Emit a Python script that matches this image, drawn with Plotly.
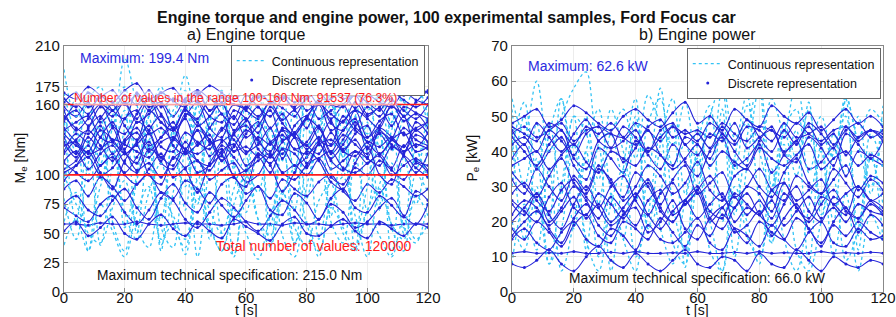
import plotly.graph_objects as go

t = [0, 4, 8, 12, 16, 20, 24, 28, 32, 36, 40, 44, 48, 52, 56, 60, 64, 68, 72, 76, 80, 84, 88, 92, 96, 100, 104, 108, 112, 116, 120]

# Engine torque samples [Nm]
torque_blue = [
    [158,150,162,145,155,160,148,165,152,140,158,163,150,145,160,155,148,162,157,150,165,148,155,160,142,158,150,163,155,148,160],
    [120,135,128,142,118,130,140,125,132,145,122,138,130,118,135,142,128,120,138,132,125,140,118,130,145,128,135,122,140,130,125],
    [105,112,125,108,118,102,115,128,110,105,120,112,108,125,115,103,118,110,122,108,115,128,105,112,120,110,118,106,125,112,108],
    [145,160,152,168,155,148,170,158,162,150,165,172,155,160,148,168,158,150,165,170,155,162,148,160,168,152,158,165,150,162,172],
    [132,118,140,150,128,122,145,138,115,130,148,125,140,152,120,135,145,128,118,142,150,130,125,138,148,122,140,132,118,145,135],
    [88,95,82,98,90,78,92,100,85,80,95,88,76,92,98,84,90,80,96,88,82,94,100,86,78,92,85,96,90,82,88],
    [58,58,57,59,58,58,60,58,57,58,59,58,58,57,58,60,58,58,57,59,58,58,57,58,59,58,58,57,58,58,58],
    [72,65,60,75,82,68,58,70,85,78,62,55,68,80,72,60,52,65,78,70,58,62,75,68,55,60,72,80,65,58,75],
    [110,102,95,108,115,100,92,105,118,98,106,112,96,104,110,94,100,116,102,96,108,114,98,92,106,100,112,104,96,110,102],
    [150,140,135,148,160,142,130,155,145,138,150,162,140,132,155,148,136,158,144,134,150,160,138,146,155,132,142,158,150,138,146],
    [165,158,170,162,155,168,160,172,158,165,162,170,155,166,160,158,172,162,168,156,165,170,160,158,168,162,155,170,164,158,166],
    [125,128,118,122,130,126,120,115,128,132,122,118,126,130,120,124,116,128,134,122,118,126,130,120,116,128,124,132,120,126,122],
    [95,108,120,102,88,112,125,100,92,115,105,85,110,122,98,90,118,108,86,102,120,112,94,88,110,124,100,92,116,106,98],
    [140,128,115,132,145,120,110,138,150,125,118,142,130,112,136,148,122,115,140,132,110,128,146,120,135,142,118,130,150,124,136],
    [75,82,70,65,78,88,72,62,80,92,76,68,85,74,64,78,90,70,66,84,76,62,80,88,72,68,82,74,64,86,78],
    [52,60,48,55,64,50,45,58,66,54,48,60,52,46,62,56,50,44,58,64,50,48,56,62,52,46,60,54,48,58,55],
    [148,155,142,158,150,162,145,152,160,140,155,148,165,152,143,158,150,162,147,155,140,160,152,145,162,150,157,142,158,153,148],
    [128,115,132,122,140,118,126,135,112,130,122,138,116,128,134,120,126,140,114,132,125,118,136,122,130,115,138,126,120,134,128],
    [162,170,158,166,172,160,168,155,170,163,158,172,165,160,168,156,170,162,166,158,172,160,165,170,157,168,162,158,170,164,160],
    [112,120,105,118,125,110,102,122,115,108,128,112,104,120,126,108,115,102,122,118,106,126,112,104,120,114,108,124,116,102,118],
    [138,145,150,132,128,148,155,135,140,130,152,145,128,138,150,132,142,155,130,136,148,140,126,150,138,132,146,152,134,140,145],
    [155,138,148,160,142,135,152,165,145,138,156,142,150,162,138,146,158,140,152,136,148,164,144,138,155,148,140,160,146,152,140],
    [102,108,115,100,106,118,104,110,98,114,120,102,108,116,100,104,112,118,102,108,100,114,120,106,102,110,116,100,108,114,104],
    [170,165,175,168,162,172,178,165,170,174,163,168,176,170,164,172,166,175,170,162,168,176,172,165,170,178,166,172,168,174,170],
    [135,125,120,138,130,118,128,142,124,120,136,128,122,140,130,118,132,126,138,122,128,142,120,134,126,118,136,130,124,138,128],
    [118,130,138,125,112,128,136,120,132,140,118,126,134,112,124,138,130,116,128,136,122,132,114,126,140,128,118,130,136,120,124],
]
torque_cyan = [
    [155,120,172,95,140,165,110,150,175,125,90,160,135,170,105,145,168,120,155,100,172,130,160,115,150,170,125,145,165,110,155],
    [80,45,110,140,60,35,95,130,55,38,120,75,150,50,32,105,85,140,48,30,90,125,60,42,115,70,135,55,35,100,85],
    [130,165,100,150,78,140,170,115,62,135,160,95,145,172,108,68,130,165,112,155,80,140,168,98,150,118,70,138,162,105,145],
    [40,62,35,75,52,30,68,90,45,58,32,80,55,35,70,50,28,65,88,42,60,30,72,55,38,68,48,30,62,45,58],
    [190,150,165,175,140,199.4,160,130,172,150,185,145,168,158,175,140,162,170,150,178,145,165,160,140,175,155,168,145,170,176,150],
    [60,85,50,42,72,95,55,38,80,65,45,90,58,35,75,100,62,48,85,55,40,78,92,50,35,70,88,58,45,82,65],
    [170,140,160,110,150,175,120,165,135,155,172,100,145,168,125,160,178,130,150,105,165,140,172,115,158,135,168,120,150,175,140],
    [100,75,55,90,120,68,45,85,110,60,38,95,70,50,88,115,62,40,82,105,58,35,78,98,65,30,92,110,55,42,80],
    [150,60,130,40,110,155,50,125,35,140,70,160,45,120,30,100,150,55,135,40,115,160,65,130,35,145,75,155,50,120,95],
    [90,140,35,120,165,55,100,150,40,85,135,30,110,160,60,95,145,38,125,70,150,45,105,165,50,90,140,32,115,75,130],
]

# Engine power samples [kW]
power_blue = [
    [45,47,44,46,48,43,46,47,45,44,48,46,43,47,45,46,44,48,45,43,47,46,44,48,45,43,46,47,44,46,45],
    [38,42,35,40,44,36,32,41,38,34,43,39,35,42,37,33,40,44,36,38,42,34,39,43,35,37,41,33,40,38,36],
    [25,22,28,20,24,30,26,21,27,23,19,26,29,22,25,28,20,24,27,22,26,21,28,24,20,25,29,23,21,26,24],
    [11,11.5,11,11.2,11,11.5,11,11,11.3,11,11.5,11,11,11.2,11,11.5,11,11,11.3,11,11.5,11,11.2,11,11,11.5,11,11.2,11,11.3,11],
    [18,15,20,17,13,19,22,16,14,20,18,15,21,17,13,19,16,22,18,14,20,17,15,21,18,13,19,16,20,17,15],
    [32,28,35,30,26,33,29,36,31,27,34,30,25,32,36,28,31,34,27,30,35,29,26,33,30,28,35,31,27,32,29],
    [22,26,24,19,23,27,21,25,20,24,28,22,18,23,26,21,25,28,20,24,22,26,19,23,27,21,24,20,25,23,22],
    [46,42,48,44,40,45,49,43,41,47,44,40,46,48,42,45,41,47,43,49,44,40,46,42,48,45,41,47,43,46,44],
    [8,7,9,12,8,6,10,13,9,7,11,8,6,9,12,8,7,10,9,6,11,8,7,12,9,6,10,8,7,9,8],
    [15,18,14,12,17,20,15,13,18,16,12,19,15,14,17,21,14,12,18,16,13,19,15,12,17,20,14,13,18,15,16],
    [36,38,40,35,39,42,37,34,40,38,36,41,39,35,38,42,36,40,37,35,41,38,36,39,42,35,38,40,36,39,37],
    [28,31,26,23,29,32,27,24,30,33,26,22,28,31,25,29,33,27,24,30,28,23,31,26,29,32,25,28,30,26,28],
    [48,50,52,47,49,53,51,48,46,50,52,49,47,51,54,48,50,46,52,49,47,53,50,48,51,46,49,52,48,50,47],
    [42,44,40,46,43,39,45,47,41,43,46,40,44,47,42,39,45,43,48,41,44,46,40,43,47,42,45,39,44,46,43],
    [20,24,28,22,18,25,30,24,19,22,27,31,23,20,26,29,21,18,24,28,22,19,25,30,23,20,27,24,21,25,22],
    [34,30,27,33,38,31,28,35,32,26,30,36,33,28,31,37,29,26,33,35,30,27,34,38,31,28,32,36,29,33,31],
    [44,40,36,42,46,38,35,43,45,37,41,46,39,36,44,42,38,45,40,36,43,47,39,37,44,41,36,45,42,38,43],
    [16,20,23,18,14,21,25,19,16,22,24,17,20,26,18,15,21,24,17,19,23,16,21,25,18,14,20,24,17,22,19],
    [26,23,20,27,31,24,22,28,25,21,27,32,24,20,26,30,23,21,28,25,22,29,31,24,21,27,25,22,30,26,23],
    [47,45,43,48,46,42,47,45,48,44,42,47,49,44,46,43,48,45,42,47,46,43,48,44,45,47,42,46,48,44,46],
]
power_cyan = [
    [52,30,48,20,55,38,50,25,45,33,50,18,42,55,28,47,35,58,22,44,60,30,48,38,52,25,45,33,50,28,53],
    [8,25,12,35,6,20,40,10,28,15,6,32,18,8,26,38,12,6,30,20,8,35,15,6,24,40,10,28,6,22,14],
    [40,54,35,48,28,50,45,32,52,40,26,48,55,36,42,30,50,44,35,53,40,28,46,52,34,45,38,55,42,30,48],
    [20,12,30,8,18,42,15,6,25,35,10,22,45,14,8,30,20,6,38,16,10,28,42,12,6,20,32,9,18,40,15],
    [55,45,60,40,50,58,62.6,44,46,52,38,56,48,42,54,36,50,59,44,48,40,55,46,60,42,50,38,56,44,52,48],
    [30,50,22,45,55,18,40,52,28,15,48,35,58,25,12,42,53,20,38,56,26,14,46,33,54,22,40,50,16,45,35],
    [45,15,38,8,30,50,12,42,6,35,55,18,28,48,7,40,22,52,10,36,58,14,32,46,8,42,20,55,12,38,25],
]

torque_ticks = [0, 25, 50, 75, 100, 160, 175, 210]
power_ticks = [0, 10, 20, 30, 40, 50, 60, 70]
time_ticks = [0, 20, 40, 60, 80, 100, 120]

CYAN = "#33c3f5"
BLUE = "#2323d8"
FONT = "Liberation Sans, Arial, sans-serif"

fig = go.Figure()


def add_panel(blue, cyan, xa, ya, leg):
    n = max(len(blue), len(cyan))
    first_c = True
    first_d = True
    for i in range(n):
        if i < len(cyan):
            fig.add_trace(go.Scatter(x=t, y=cyan[i], mode="lines", line=dict(color=CYAN, width=1.3, dash="dot", shape="spline"),
                                     name="Continuous representation", legendgroup="c" + leg,
                                     showlegend=first_c, legend=leg, xaxis=xa, yaxis=ya, legendrank=1))
            first_c = False
        if i < len(blue):
            fig.add_trace(go.Scatter(x=t, y=blue[i], mode="lines", line=dict(color=BLUE, width=1.1, shape="spline"),
                                     xaxis=xa, yaxis=ya, showlegend=False, hoverinfo="skip"))
            fig.add_trace(go.Scatter(x=t, y=blue[i], mode="markers", marker=dict(color=BLUE, size=3),
                                     name="Discrete representation", legendgroup="d" + leg,
                                     showlegend=first_d, legend=leg, xaxis=xa, yaxis=ya, legendrank=2))
            first_d = False


add_panel(torque_blue, torque_cyan, "x", "y", "legend")
add_panel(power_blue, power_cyan, "x2", "y2", "legend2")

# Red range lines 100 and 160 Nm
for yv in (100, 160):
    fig.add_trace(go.Scatter(x=[0, 120], y=[yv, yv], mode="lines", line=dict(color="#ff1a1a", width=1.6),
                             xaxis="x", yaxis="y", showlegend=False, hoverinfo="skip"))

axis_common = dict(showline=True, linecolor="#888888", linewidth=1, mirror=True, ticks="inside", ticklen=4,
                   tickcolor="#888888", showgrid=True, gridcolor="#ececec", zeroline=False, automargin=False,
                   tickfont=dict(size=15, color="#111111", family=FONT))
xaxis_extra = dict(ticklabelstandoff=-8)

fig.update_layout(
    width=896, height=317, margin=dict(l=0, r=0, t=0, b=0, autoexpand=False),
    paper_bgcolor="white", plot_bgcolor="white",
    font=dict(family=FONT, color="#111111"),
    xaxis=dict(domain=[0.0714, 0.4777], range=[0, 120], tickvals=time_ticks, anchor="y", **axis_common, **xaxis_extra),
    yaxis=dict(domain=[0.0789, 0.8549], range=[0, 210], tickvals=torque_ticks, anchor="x", **axis_common),
    xaxis2=dict(domain=[0.5714, 0.9855], range=[0, 120], tickvals=time_ticks, anchor="y2", **axis_common, **xaxis_extra),
    yaxis2=dict(domain=[0.0789, 0.8549], range=[0, 70], tickvals=power_ticks, anchor="x2", **axis_common),
    legend=dict(x=0.474, y=1 - 45 / 317, xanchor="right", yanchor="top", bgcolor="white", bordercolor="#666666",
                borderwidth=1, font=dict(size=12.5, family=FONT), tracegroupgap=0, itemwidth=30),
    legend2=dict(x=0.983, y=1 - 48 / 317, xanchor="right", yanchor="top", bgcolor="white", bordercolor="#666666",
                 borderwidth=1, font=dict(size=12.5, family=FONT), tracegroupgap=0, itemwidth=30),
    showlegend=True,
)

ann = [
    dict(text="<b>Engine torque and engine power, 100 experimental samples, Ford Focus car</b>", x=446 / 896, y=1 - 17 / 317,
         xref="paper", yref="paper", font=dict(size=16)),
    dict(text="a) Engine torque", x=246 / 896, y=1 - 35 / 317, xref="paper", yref="paper", font=dict(size=16)),
    dict(text="b) Engine power", x=697 / 896, y=1 - 35 / 317, xref="paper", yref="paper", font=dict(size=16)),
    dict(text="M<sub>e</sub> [Nm]", x=20 / 896, y=0.5, xref="paper", yref="paper", textangle=-90, font=dict(size=14)),
    dict(text="P<sub>e</sub> [kW]", x=472 / 896, y=0.5, xref="paper", yref="paper", textangle=-90, font=dict(size=14)),
    dict(text="t [s]", x=246 / 896, y=1 - 310 / 317, xref="paper", yref="paper", font=dict(size=14)),
    dict(text="t [s]", x=697 / 896, y=1 - 310 / 317, xref="paper", yref="paper", font=dict(size=14)),
    dict(text="Maximum: 199.4 Nm", x=144 / 896, y=1 - 58 / 317, xref="paper", yref="paper",
         font=dict(size=14, color="#2a2ae0")),
    dict(text="Number of values in the range 100-160 Nm: 91537 (76.3%)", x=235 / 896, y=1 - 98 / 317,
         xref="paper", yref="paper", font=dict(size=12.3, color="#ff1a1a"),
         bgcolor="rgba(255,255,255,0.6)", borderpad=0),
    dict(text="Total number of values: 120000", x=314 / 896, y=1 - 246 / 317, xref="paper", yref="paper",
         font=dict(size=14, color="#ff1a1a")),
    dict(text="Maximum technical specification: 215.0 Nm", x=229 / 896, y=1 - 275 / 317, xref="paper",
         yref="paper", font=dict(size=13.8, color="#111111")),
    dict(text="Maximum: 62.6 kW", x=588 / 896, y=1 - 66 / 317, xref="paper", yref="paper",
         font=dict(size=14, color="#2a2ae0")),
    dict(text="Maximum technical specification: 66.0 kW", x=697 / 896, y=1 - 278 / 317, xref="paper",
         yref="paper", font=dict(size=13.8, color="#111111")),
]
for a in ann:
    a.setdefault("showarrow", False)
    a.setdefault("xanchor", "center")
    a.setdefault("yanchor", "middle")
fig.update_layout(annotations=ann)

fig.write_html("out.html", config={"displayModeBar": False},
               post_script="document.body.style.margin='0';document.body.style.overflow='hidden';")
